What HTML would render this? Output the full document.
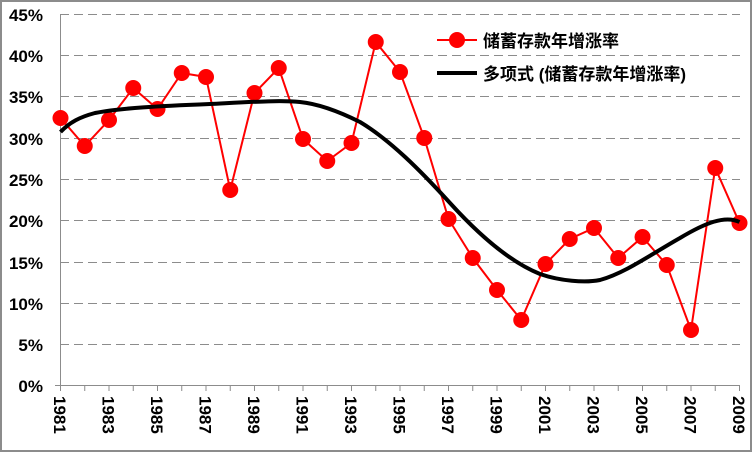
<!DOCTYPE html>
<html><head><meta charset="utf-8"><style>
body{margin:0;background:#fff}
svg{display:block}
text{font-family:"Liberation Sans","DejaVu Sans","Noto Sans CJK SC",sans-serif;font-weight:bold;font-size:17px;fill:#000}
</style></head><body>
<svg width="752" height="452" xmlns="http://www.w3.org/2000/svg">
<rect x="1" y="1" width="750" height="450" fill="#fff" stroke="#8c8c8c" stroke-width="2"/>
<g stroke="#8c8c8c" stroke-width="1" stroke-dasharray="9,5">
<line x1="60" x2="740" y1="14.5" y2="14.5"/><line x1="60" x2="740" y1="55.5" y2="55.5"/>
<line x1="60" x2="740" y1="96.5" y2="96.5"/><line x1="60" x2="740" y1="138.5" y2="138.5"/>
<line x1="60" x2="740" y1="179.5" y2="179.5"/><line x1="60" x2="740" y1="220.5" y2="220.5"/>
<line x1="60" x2="740" y1="262.5" y2="262.5"/><line x1="60" x2="740" y1="303.5" y2="303.5"/>
<line x1="60" x2="740" y1="344.5" y2="344.5"/>
</g>
<g stroke="#8c8c8c" stroke-width="1">
<line x1="60.5" y1="14" x2="60.5" y2="386"/><line x1="55" y1="385.5" x2="740" y2="385.5"/>
<path id="ticks" d="M60.5 385v6M84.75 385v6M109 385v6M133.25 385v6M157.5 385v6M181.75 385v6M206 385v6M230.25 385v6M254.5 385v6M278.75 385v6M303 385v6M327.25 385v6M351.5 385v6M375.75 385v6M400 385v6M424.25 385v6M448.5 385v6M472.75 385v6M497 385v6M521.25 385v6M545.5 385v6M569.75 385v6M594 385v6M618.25 385v6M642.5 385v6M666.75 385v6M691 385v6M715.25 385v6M739.5 385v6"/>
</g>
<g text-anchor="end">
<text x="43" y="21">45%</text><text x="43" y="62">40%</text><text x="43" y="103">35%</text>
<text x="43" y="145">30%</text><text x="43" y="186">25%</text><text x="43" y="227">20%</text>
<text x="43" y="269">15%</text><text x="43" y="310">10%</text><text x="43" y="351">5%</text>
<text x="43" y="392">0%</text>
</g>
<g>
<text transform="translate(54,396) rotate(90)">1981</text>
<text transform="translate(102.5,396) rotate(90)">1983</text>
<text transform="translate(151,396) rotate(90)">1985</text>
<text transform="translate(199.5,396) rotate(90)">1987</text>
<text transform="translate(248,396) rotate(90)">1989</text>
<text transform="translate(296.5,396) rotate(90)">1991</text>
<text transform="translate(345,396) rotate(90)">1993</text>
<text transform="translate(393.5,396) rotate(90)">1995</text>
<text transform="translate(442,396) rotate(90)">1997</text>
<text transform="translate(490.5,396) rotate(90)">1999</text>
<text transform="translate(539,396) rotate(90)">2001</text>
<text transform="translate(587.5,396) rotate(90)">2003</text>
<text transform="translate(636,396) rotate(90)">2005</text>
<text transform="translate(684.5,396) rotate(90)">2007</text>
<text transform="translate(733,396) rotate(90)">2009</text>
</g>
<polyline fill="none" stroke="#ff0000" stroke-width="2" points="60.5,118 84.75,146 109,120 133.25,88 157.5,109 181.75,73 206,77 230.25,190 254.5,93 278.75,68 303,139 327.25,161 351.5,143 375.75,42 400,72 424.25,138 448.5,219 472.75,258 497,290 521.25,320 545.5,264 569.75,239 594,228 618.25,258 642.5,237 666.75,265 691,330 715.25,168 739.5,223"/>
<g fill="#ff0000">
<circle cx="60.5" cy="118" r="8"/><circle cx="84.75" cy="146" r="8"/><circle cx="109" cy="120" r="8"/><circle cx="133.25" cy="88" r="8"/><circle cx="157.5" cy="109" r="8"/><circle cx="181.75" cy="73" r="8"/><circle cx="206" cy="77" r="8"/><circle cx="230.25" cy="190" r="8"/><circle cx="254.5" cy="93" r="8"/><circle cx="278.75" cy="68" r="8"/><circle cx="303" cy="139" r="8"/><circle cx="327.25" cy="161" r="8"/><circle cx="351.5" cy="143" r="8"/><circle cx="375.75" cy="42" r="8"/><circle cx="400" cy="72" r="8"/><circle cx="424.25" cy="138" r="8"/><circle cx="448.5" cy="219" r="8"/><circle cx="472.75" cy="258" r="8"/><circle cx="497" cy="290" r="8"/><circle cx="521.25" cy="320" r="8"/><circle cx="545.5" cy="264" r="8"/><circle cx="569.75" cy="239" r="8"/><circle cx="594" cy="228" r="8"/><circle cx="618.25" cy="258" r="8"/><circle cx="642.5" cy="237" r="8"/><circle cx="666.75" cy="265" r="8"/><circle cx="691" cy="330" r="8"/><circle cx="715.25" cy="168" r="8"/><circle cx="739.5" cy="223" r="8"/>
</g>
<path fill="none" stroke="#000" stroke-width="4" stroke-linejoin="round" d="M60.5,132 C70,122 80,117 95,113 C120,108 160,106 210,104 C250,102 280,100 300,102 C320,104 340,112 360,122 C390,140 420,170 450,203 C480,236 510,262 540,274 C560,281 585,283 600,280 C625,273 650,255 680,238 C705,223 725,215 739.5,222"/>
<line x1="437" y1="40" x2="477" y2="40" stroke="#ff0000" stroke-width="2"/>
<circle cx="457" cy="40" r="8" fill="#ff0000"/>
<text x="483" y="47">储蓄存款年增涨率</text>
<line x1="437" y1="73" x2="477" y2="73" stroke="#000" stroke-width="4"/>
<text x="483" y="80">多项式 (储蓄存款年增涨率)</text>
</svg>
</body></html>
